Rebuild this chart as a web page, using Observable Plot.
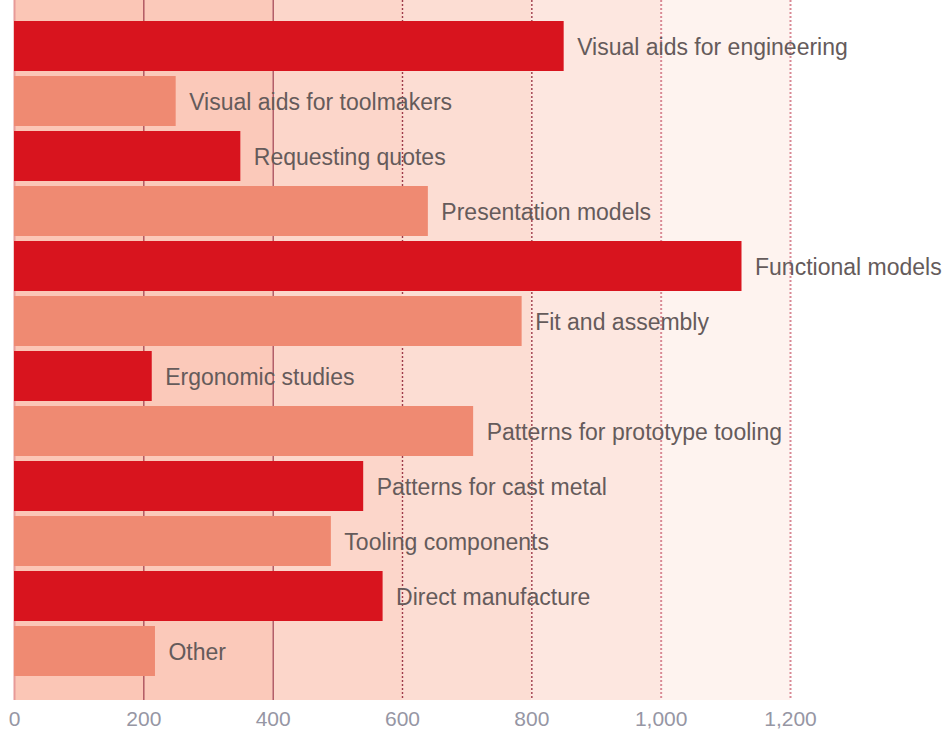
<!DOCTYPE html>
<html>
<head>
<meta charset="utf-8">
<script src="https://cdn.jsdelivr.net/npm/d3@7"></script>
<script src="https://cdn.jsdelivr.net/npm/@observablehq/plot@0.6"></script>
<style>
  html, body { margin: 0; padding: 0; background: #ffffff; }
  #chart svg { display: block; }
</style>
</head>
<body>
<div id="chart"></div>
<script>
const categories = [
  "Visual aids for engineering",
  "Visual aids for toolmakers",
  "Requesting quotes",
  "Presentation models",
  "Functional models",
  "Fit and assembly",
  "Ergonomic studies",
  "Patterns for prototype tooling",
  "Patterns for cast metal",
  "Tooling components",
  "Direct manufacture",
  "Other"
];
const values = [850, 250, 350, 640, 1125, 785, 213, 710, 540, 490, 570, 218];
const kinds = ["dark", "light", "dark", "light", "dark", "light", "dark", "light", "dark", "light", "dark", "light"];
const tickValues = [0, 200, 400, 600, 800, 1000, 1200];

// styles (kept separate from the data)
const DARK = "#d8141e";
const LIGHT = "#ef8a72";
const bandFills = ["#fbc6b6", "#fbc9ba", "#fcd6ca", "#fcddd3", "#fde7e0", "#fef3ef"];
const FONT = "Liberation Sans, Arial, sans-serif";

const data = categories.map((c, i) => ({category: c, value: values[i], kind: kinds[i]}));
const bands = tickValues.slice(0, -1).map((t, i) => ({x1: t, x2: tickValues[i + 1], i}));

const chart = Plot.plot({
  width: 952,
  height: 744,
  marginLeft: 14,
  marginRight: 162,
  marginTop: 0,
  marginBottom: 44,
  style: {background: "#ffffff", fontFamily: FONT},
  x: {domain: [0, 1200]},
  y: {domain: categories, range: [20, 678], paddingInner: 0.086, paddingOuter: 0, axis: null},
  marks: [
    ...bands.map(b => Plot.rect([b], {x1: "x1", x2: "x2", fill: bandFills[b.i]})),
    Plot.ruleX([0], {stroke: "#e79a98", strokeWidth: 2}),
    Plot.ruleX([200, 400], {stroke: "#9e3b4a", strokeWidth: 1.2}),
    Plot.ruleX([600, 800], {stroke: "#9e3b4a", strokeWidth: 1.4, strokeDasharray: "2,2"}),
    Plot.ruleX([1000, 1200], {stroke: "#d98a95", strokeWidth: 2, strokeDasharray: "2,2"}),
    Plot.barX(data.filter(d => d.kind === "dark"), {x: "value", y: "category", fill: DARK}),
    Plot.barX(data.filter(d => d.kind === "light"), {x: "value", y: "category", fill: LIGHT}),
    Plot.text(data, {
      x: "value", y: "category", text: "category",
      textAnchor: "start", dx: 13, dy: 1,
      fill: "#655b5b", fontSize: 23, fontFamily: FONT
    }),
    Plot.axisX({
      ticks: tickValues,
      tickFormat: d3.format(","),
      tickSize: 0,
      tickPadding: 11,
      fontSize: 21,
      color: "#9696a4",
      label: null
    })
  ]
});
document.getElementById("chart").appendChild(chart);
</script>
</body>
</html>
